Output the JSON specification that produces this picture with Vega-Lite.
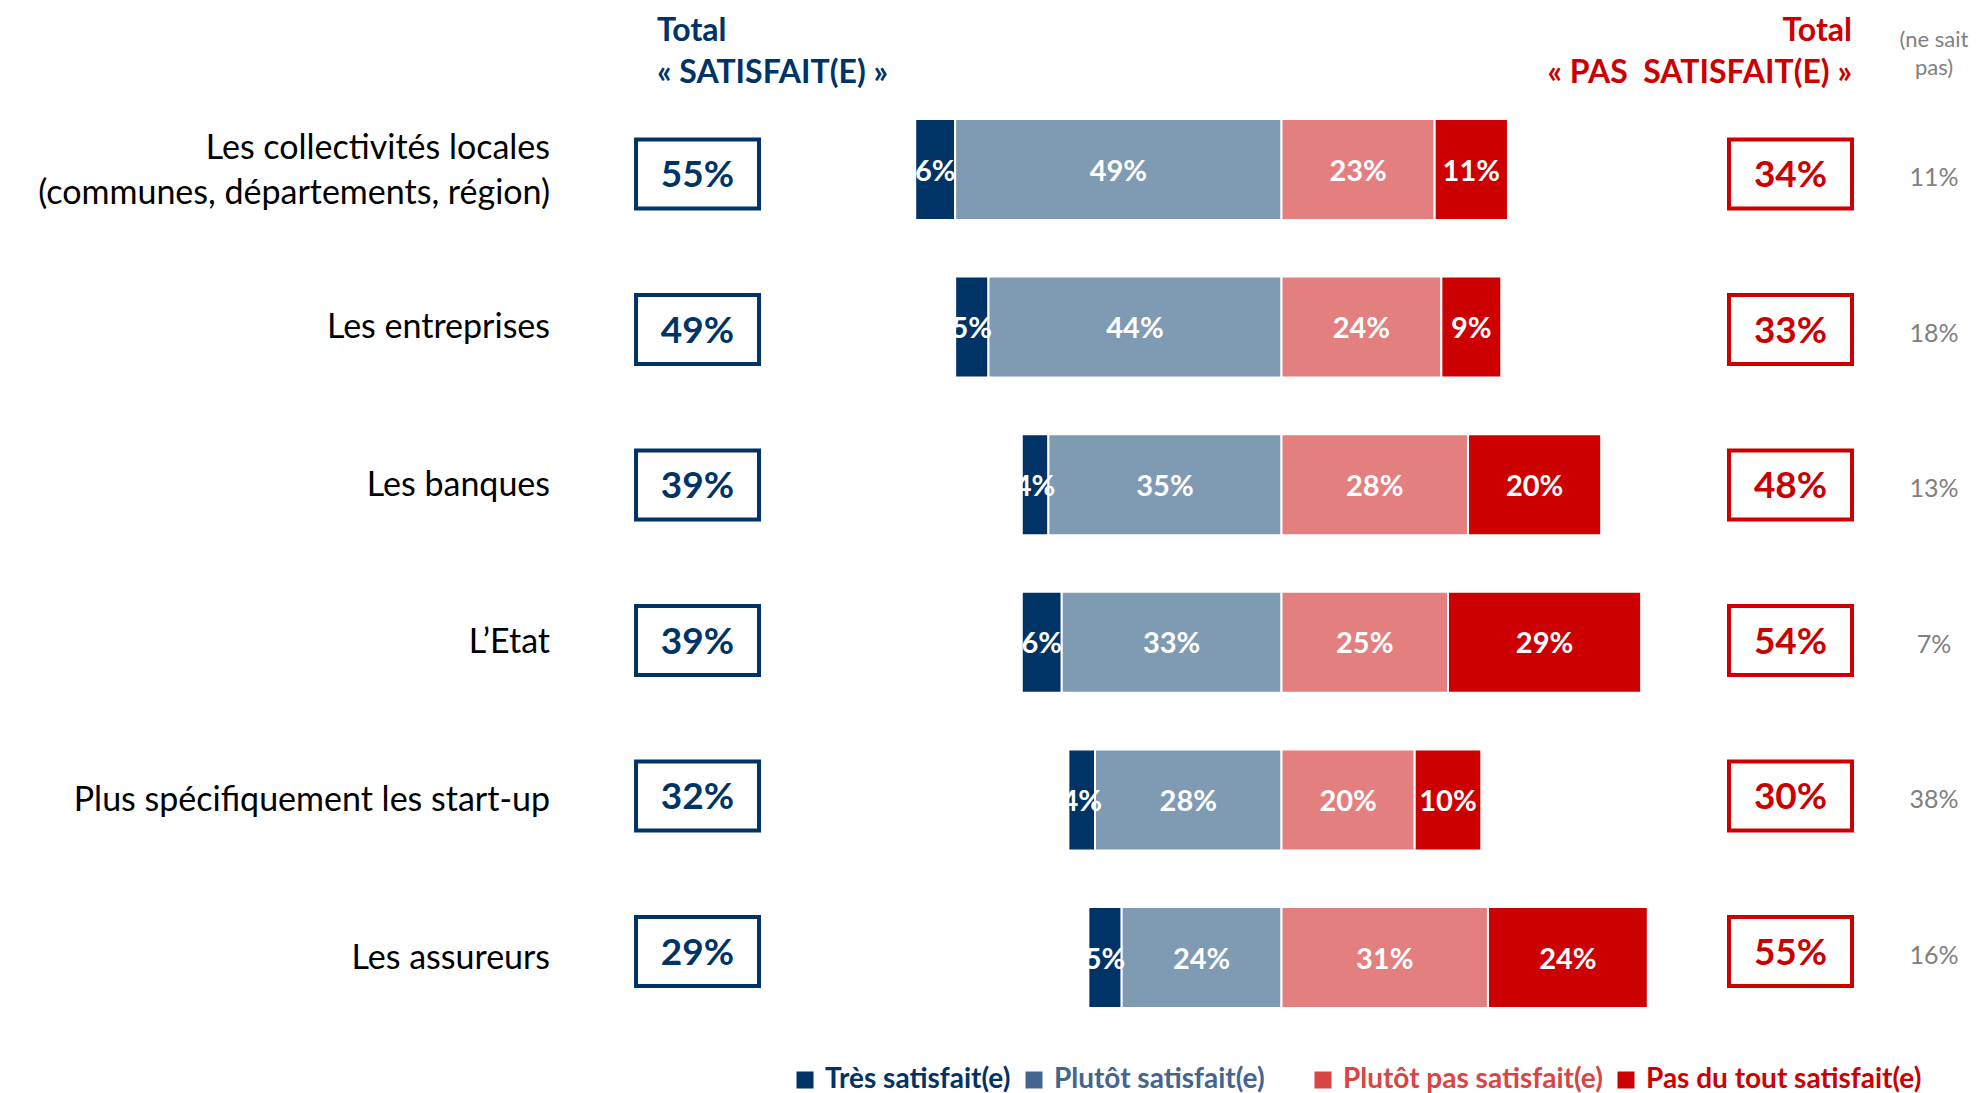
{
  "$schema": "https://vega.github.io/schema/vega-lite/v6.json",
  "width": 1976,
  "height": 928,
  "autosize": {"type": "none"},
  "padding": {"left": 0, "right": 0, "top": 93, "bottom": 72},
  "background": "white",
  "config": {"view": {"stroke": null}, "font": "Lato"},
  "datasets": {
    "bars": [
      {"item": "Les collectivités locales\n(communes, départements, région)", "cat": "Très satisfait(e)", "side": "sat", "niveau": 2, "v": 0.06},
      {"item": "Les collectivités locales\n(communes, départements, région)", "cat": "Plutôt satisfait(e)", "side": "sat", "niveau": 1, "v": 0.49},
      {"item": "Les collectivités locales\n(communes, départements, région)", "cat": "Plutôt pas satisfait(e)", "side": "pas", "niveau": 1, "v": 0.23},
      {"item": "Les collectivités locales\n(communes, départements, région)", "cat": "Pas du tout satisfait(e)", "side": "pas", "niveau": 2, "v": 0.11},
      {"item": "Les entreprises", "cat": "Très satisfait(e)", "side": "sat", "niveau": 2, "v": 0.05},
      {"item": "Les entreprises", "cat": "Plutôt satisfait(e)", "side": "sat", "niveau": 1, "v": 0.44},
      {"item": "Les entreprises", "cat": "Plutôt pas satisfait(e)", "side": "pas", "niveau": 1, "v": 0.24},
      {"item": "Les entreprises", "cat": "Pas du tout satisfait(e)", "side": "pas", "niveau": 2, "v": 0.09},
      {"item": "Les banques", "cat": "Très satisfait(e)", "side": "sat", "niveau": 2, "v": 0.04},
      {"item": "Les banques", "cat": "Plutôt satisfait(e)", "side": "sat", "niveau": 1, "v": 0.35},
      {"item": "Les banques", "cat": "Plutôt pas satisfait(e)", "side": "pas", "niveau": 1, "v": 0.28},
      {"item": "Les banques", "cat": "Pas du tout satisfait(e)", "side": "pas", "niveau": 2, "v": 0.20},
      {"item": "L’Etat", "cat": "Très satisfait(e)", "side": "sat", "niveau": 2, "v": 0.06},
      {"item": "L’Etat", "cat": "Plutôt satisfait(e)", "side": "sat", "niveau": 1, "v": 0.33},
      {"item": "L’Etat", "cat": "Plutôt pas satisfait(e)", "side": "pas", "niveau": 1, "v": 0.25},
      {"item": "L’Etat", "cat": "Pas du tout satisfait(e)", "side": "pas", "niveau": 2, "v": 0.29},
      {"item": "Plus spécifiquement les start-up", "cat": "Très satisfait(e)", "side": "sat", "niveau": 2, "v": 0.04},
      {"item": "Plus spécifiquement les start-up", "cat": "Plutôt satisfait(e)", "side": "sat", "niveau": 1, "v": 0.28},
      {"item": "Plus spécifiquement les start-up", "cat": "Plutôt pas satisfait(e)", "side": "pas", "niveau": 1, "v": 0.20},
      {"item": "Plus spécifiquement les start-up", "cat": "Pas du tout satisfait(e)", "side": "pas", "niveau": 2, "v": 0.10},
      {"item": "Les assureurs", "cat": "Très satisfait(e)", "side": "sat", "niveau": 2, "v": 0.05},
      {"item": "Les assureurs", "cat": "Plutôt satisfait(e)", "side": "sat", "niveau": 1, "v": 0.24},
      {"item": "Les assureurs", "cat": "Plutôt pas satisfait(e)", "side": "pas", "niveau": 1, "v": 0.31},
      {"item": "Les assureurs", "cat": "Pas du tout satisfait(e)", "side": "pas", "niveau": 2, "v": 0.24}
    ],
    "totals": [
      {"item": "Les collectivités locales\n(communes, départements, région)", "sat": 0.55, "pas": 0.34, "nsp": 0.11},
      {"item": "Les entreprises", "sat": 0.49, "pas": 0.33, "nsp": 0.18},
      {"item": "Les banques", "sat": 0.39, "pas": 0.48, "nsp": 0.13},
      {"item": "L’Etat", "sat": 0.39, "pas": 0.54, "nsp": 0.07},
      {"item": "Plus spécifiquement les start-up", "sat": 0.32, "pas": 0.30, "nsp": 0.38},
      {"item": "Les assureurs", "sat": 0.29, "pas": 0.55, "nsp": 0.16}
    ]
  },
  "encoding": {
    "y": {
      "field": "item",
      "type": "nominal",
      "scale": {
        "type": "band",
        "domain": [
          "Les collectivités locales\n(communes, départements, région)",
          "Les entreprises",
          "Les banques",
          "L’Etat",
          "Plus spécifiquement les start-up",
          "Les assureurs"
        ],
        "range": [-2.3, 943.3],
        "paddingInner": 0.359,
        "paddingOuter": 0.1795
      },
      "axis": null
    }
  },
  "resolve": {"scale": {"y": "independent"}},
  "layer": [
    {
      "data": {"name": "bars"},
      "transform": [
        {"calculate": "datum.side == 'sat' ? -datum.v : datum.v", "as": "s"},
        {"stack": "s", "groupby": ["item"], "sort": [{"field": "niveau", "order": "ascending"}], "as": ["x0", "x1"]},
        {"calculate": "(datum.x0 + datum.x1) / 2", "as": "mid"}
      ],
      "encoding": {
        "x": {"field": "x0", "type": "quantitative", "scale": {"domain": [-1.9242, 1.0428], "nice": false, "zero": false}, "axis": null},
        "x2": {"field": "x1"}
      },
      "layer": [
        {
          "transform": [{"filter": "datum.cat == 'Très satisfait(e)'"}],
          "mark": {"type": "bar", "stroke": "white", "strokeWidth": 2, "fill": "#003366"}
        },
        {
          "transform": [{"filter": "datum.cat == 'Plutôt satisfait(e)'"}],
          "mark": {"type": "bar", "stroke": "white", "strokeWidth": 2, "fill": "#7f9ab3"}
        },
        {
          "transform": [{"filter": "datum.cat == 'Plutôt pas satisfait(e)'"}],
          "mark": {"type": "bar", "stroke": "white", "strokeWidth": 2, "fill": "#e37f7f"}
        },
        {
          "transform": [{"filter": "datum.cat == 'Pas du tout satisfait(e)'"}],
          "mark": {"type": "bar", "stroke": "white", "strokeWidth": 2, "fill": "#cc0000"}
        },
        {
          "mark": {"type": "text", "color": "white", "fontWeight": "bold", "fontSize": 29, "align": "center", "baseline": "middle", "dy": 2},
          "encoding": {
            "x": {"field": "mid", "type": "quantitative"},
            "x2": null,
            "text": {"field": "v", "type": "quantitative", "format": ".0%"}
          }
        }
      ]
    },
    {
      "data": {"values": [{}]},
      "mark": {"type": "rule", "color": "#7f7f7f", "strokeWidth": 2},
      "encoding": {"x": {"datum": 0}}
    },
    {
      "data": {"name": "totals"},
      "transform": [{"filter": "indexof(datum.item, '\\n') >= 0"}],
      "mark": {"type": "text", "color": "black", "fontSize": 34, "align": "right", "baseline": "middle", "lineBreak": "\n", "lineHeight": 45, "dy": -21},
      "encoding": {"x": {"datum": -1.0983}, "text": {"field": "item", "type": "nominal"}}
    },
    {
      "data": {"name": "totals"},
      "transform": [{"filter": "indexof(datum.item, '\\n') < 0"}],
      "mark": {"type": "text", "color": "black", "fontSize": 34, "align": "right", "baseline": "middle", "dy": 1},
      "encoding": {"x": {"datum": -1.0983}, "text": {"field": "item", "type": "nominal"}}
    },
    {
      "data": {"name": "totals"},
      "encoding": {
        "y": {
          "field": "item",
          "type": "nominal",
          "scale": {
            "type": "band",
            "domain": [
              "Les collectivités locales\n(communes, départements, région)",
              "Les entreprises",
              "Les banques",
              "L’Etat",
              "Plus spécifiquement les start-up",
              "Les assureurs"
            ],
            "range": [3.25, 936.25],
            "paddingInner": 0.5,
            "paddingOuter": 0.25
          },
          "axis": null
        }
      },
      "layer": [
        {
          "mark": {"type": "bar", "height": 69, "fill": "white", "stroke": "#003366", "strokeWidth": 4},
          "encoding": {"x": {"datum": -0.9692}, "x2": {"datum": -0.7845}}
        },
        {
          "mark": {"type": "text", "color": "#003366", "fontWeight": "bold", "fontSize": 37, "align": "center", "baseline": "middle", "dy": 2},
          "encoding": {"x": {"datum": -0.8769}, "text": {"field": "sat", "type": "quantitative", "format": ".0%"}}
        },
        {
          "mark": {"type": "bar", "height": 69, "fill": "white", "stroke": "#cc0000", "strokeWidth": 4},
          "encoding": {"x": {"datum": 0.6719}, "x2": {"datum": 0.8566}}
        },
        {
          "mark": {"type": "text", "color": "#cc0000", "fontWeight": "bold", "fontSize": 37, "align": "center", "baseline": "middle", "dy": 2},
          "encoding": {"x": {"datum": 0.7643}, "text": {"field": "pas", "type": "quantitative", "format": ".0%"}}
        },
        {
          "mark": {"type": "text", "color": "#808080", "fontSize": 25, "align": "center", "baseline": "middle", "dy": 4},
          "encoding": {"x": {"datum": 0.9797}, "text": {"field": "nsp", "type": "quantitative", "format": ".0%"}}
        }
      ]
    },
    {
      "data": {"values": [{}]},
      "encoding": {
        "y": {
          "datum": "Les collectivités locales\n(communes, départements, région)",
          "type": "nominal",
          "scale": {
            "type": "band",
            "domain": [
              "Les collectivités locales\n(communes, départements, région)",
              "Les entreprises",
              "Les banques",
              "L’Etat",
              "Plus spécifiquement les start-up",
              "Les assureurs"
            ],
            "range": [-2.3, 943.3],
            "paddingInner": 0.359,
            "paddingOuter": 0.1795
          },
          "axis": null,
          "bandPosition": -0.874
        }
      },
      "layer": [
        {
          "mark": {"type": "text", "text": ["Total", "« SATISFAIT(E) »"], "color": "#003366", "fontWeight": "bold", "fontSize": 32, "align": "left", "baseline": "middle", "lineHeight": 42},
          "encoding": {"x": {"datum": -0.9377}}
        },
        {
          "mark": {"type": "text", "text": ["Total", "« PAS\u00a0 SATISFAIT(E) »"], "color": "#cc0000", "fontWeight": "bold", "fontSize": 32, "align": "right", "baseline": "middle", "lineHeight": 42},
          "encoding": {"x": {"datum": 0.8566}}
        },
        {
          "mark": {"type": "text", "text": ["(ne sait", "pas)"], "color": "#808080", "fontSize": 22, "align": "center", "baseline": "middle", "lineHeight": 28, "dy": 9},
          "encoding": {"x": {"datum": 0.9797}}
        }
      ]
    },
    {
      "data": {"name": "bars"},
      "transform": [{"filter": "false"}],
      "mark": {"type": "square", "filled": true, "opacity": 1},
      "encoding": {
        "fill": {
          "field": "cat",
          "type": "nominal",
          "scale": {
            "domain": ["Très satisfait(e)", "Plutôt satisfait(e)"],
            "range": ["#003366", "#44658f"]
          },
          "legend": {
            "orient": "none",
            "legendX": 791,
            "legendY": 973,
            "direction": "horizontal",
            "title": null,
            "symbolType": "square",
            "symbolSize": 289,
            "symbolStrokeWidth": 0,
            "symbolOpacity": 1,
            "labelFont": "Lato",
            "labelFontSize": 28,
            "labelFontWeight": "bold",
            "labelOffset": 6,
            "columnPadding": 9,
            "labelLimit": 500,
            "labelColor": {"expr": "scale('fill', datum.value)"}
          }
        }
      }
    },
    {
      "data": {"name": "bars"},
      "transform": [{"filter": "false"}],
      "mark": {"type": "square", "filled": true, "opacity": 1},
      "encoding": {
        "color": {
          "field": "cat",
          "type": "nominal",
          "scale": {
            "domain": ["Plutôt pas satisfait(e)", "Pas du tout satisfait(e)"],
            "range": ["#d94545", "#cc0000"]
          },
          "legend": {
            "orient": "none",
            "legendX": 1309,
            "legendY": 973,
            "direction": "horizontal",
            "title": null,
            "symbolType": "square",
            "symbolSize": 289,
            "symbolStrokeWidth": 0,
            "symbolOpacity": 1,
            "labelFont": "Lato",
            "labelFontSize": 28,
            "labelFontWeight": "bold",
            "labelOffset": 6,
            "columnPadding": 9,
            "labelLimit": 500,
            "labelColor": {"expr": "scale('color', datum.value)"}
          }
        }
      }
    }
  ]
}
